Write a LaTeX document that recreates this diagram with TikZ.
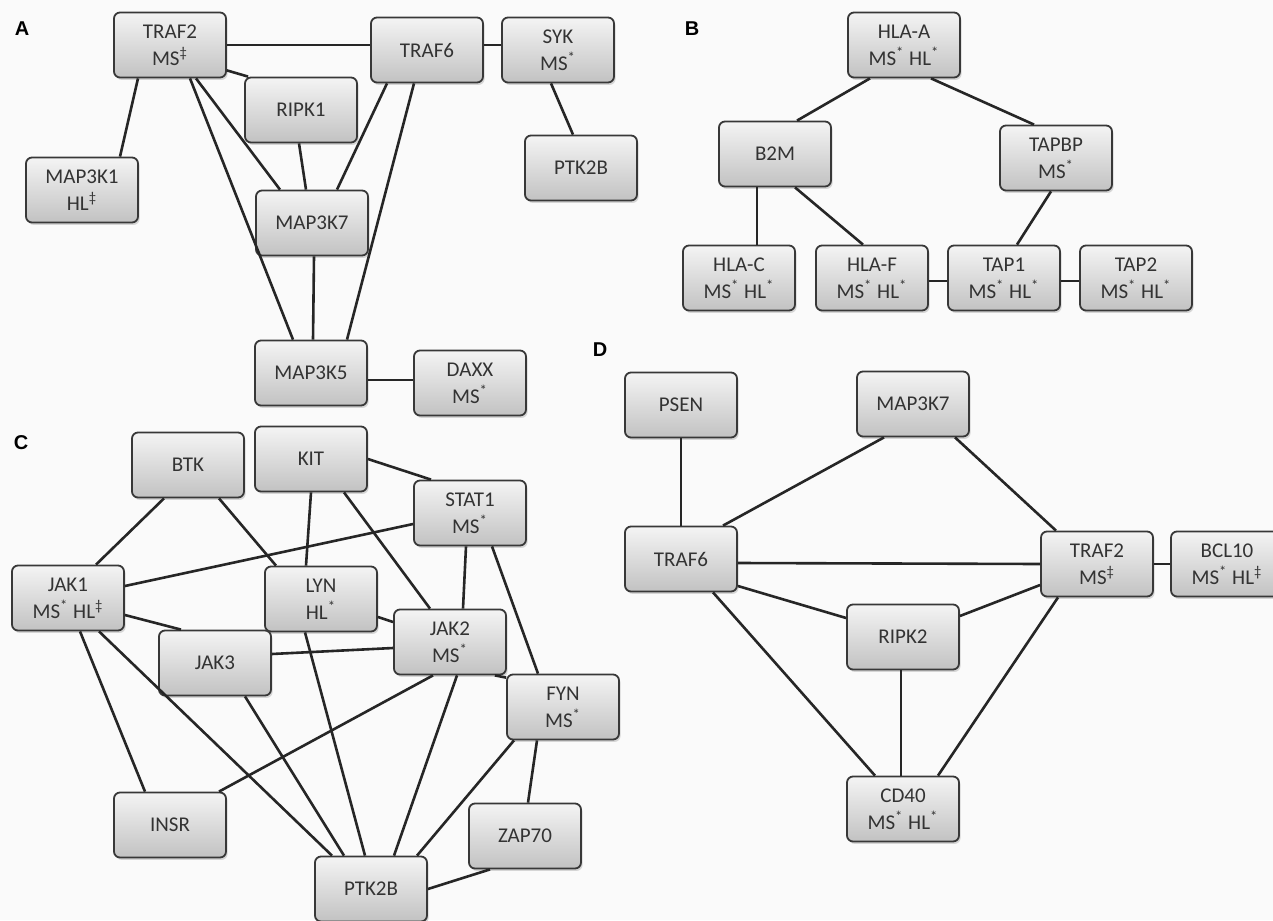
\documentclass[tikz,border=0pt]{standalone}
\usepackage{fontspec}
\setmainfont{Carlito}
\newfontfamily\panelfont{Liberation Sans}
\usepackage{tikz}
\usetikzlibrary{shadows}

\definecolor{boxtop}{HTML}{F4F4F4}
\definecolor{boxbot}{HTML}{C2C2C2}
\definecolor{boxline}{HTML}{383838}
\definecolor{bgcol}{HTML}{FAFAFA}
\newcommand{\supa}{\textsuperscript{*}}
\newcommand{\supd}{\textsuperscript{‡}}

\tikzset{
  gene/.style={rectangle, rounded corners=3pt, draw=boxline, line width=0.9pt,
    top color=boxtop, bottom color=boxbot, minimum width=56pt, minimum height=32.5pt,
    inner sep=0pt, align=center, text=black!80,
    font=\fontsize{10.5}{13.5}\selectfont,
    drop shadow={shadow xshift=0.8pt, shadow yshift=-1.2pt, opacity=0.3}},
  link/.style={line width=1.3pt, draw=black!85},
  panel/.style={font=\panelfont\bfseries\fontsize{10}{12}\selectfont}
}

\begin{document}
\begin{tikzpicture}[x=0.5pt,y=-0.5pt]
      \fill[bgcol] (0,0) rectangle (1273,920);
      \useasboundingbox (0,0) rectangle (1273,920);

      % A
      \node[panel] at (22,29) {A};
      \node[gene] (atraf2) at (170,45) {TRAF2\\MS\supd};
      \node[gene] (atraf6) at (427,50) {TRAF6};
      \node[gene] (asyk) at (558,50) {SYK\\MS\supa};
      \node[gene] (aripk1) at (301,110) {RIPK1};
      \node[gene] (aptk2b) at (581,168) {PTK2B};
      \node[gene] (amap3k1) at (82,190) {MAP3K1\\HL\supd};
      \node[gene] (amap3k7) at (312,223) {MAP3K7};
      \node[gene] (amap3k5) at (311,373) {MAP3K5};
      \node[gene] (adaxx) at (470,383) {DAXX\\MS\supa};
      \draw[link] (atraf2.east) -- ([yshift=2.5pt]atraf6.west);
      \draw[link] ([yshift=2.5pt]atraf6.east) -- ([yshift=2.5pt]asyk.west);
      \draw[link] ([xshift=-3.5pt]asyk.south) -- ([xshift=-4pt]aptk2b.north);
      \draw[link] ([xshift=-16pt]atraf2.south) -- ([xshift=19pt]amap3k1.north);
      \draw[link] ([yshift=4pt]atraf2.south east) -- ([xshift=2pt]aripk1.north west);
      \draw[link] ([xshift=13pt]atraf2.south) -- ([xshift=-16pt]amap3k7.north);
      \draw[link] ([xshift=10pt]atraf2.south) -- ([xshift=-9pt]amap3k5.north);
      \draw[link] ([xshift=-1pt]aripk1.south) -- ([xshift=-3pt]amap3k7.north);
      \draw[link] ([xshift=-20pt]atraf6.south) -- ([xshift=12.5pt]amap3k7.north);
      \draw[link] ([xshift=-6.5pt]atraf6.south) -- ([xshift=18pt]amap3k5.north);
      \draw[link] ([xshift=1pt]amap3k7.south) -- ([xshift=1pt]amap3k5.north);
      \draw[link] ([yshift=-3.5pt]amap3k5.east) -- ([yshift=1.5pt]adaxx.west);

      % B
      \node[panel] at (692,29) {B};
      \node[gene] (bhlaa) at (904,45) {HLA-A\\MS\supa{} HL\supa};
      \node[gene] (bb2m) at (775,154) {B2M};
      \node[gene] (btapbp) at (1056,158) {TAPBP\\MS\supa};
      \node[gene] (bhlac) at (739,278) {HLA-C\\MS\supa{} HL\supa};
      \node[gene] (bhlaf) at (872,278) {HLA-F\\MS\supa{} HL\supa};
      \node[gene] (btap1) at (1004,278) {TAP1\\MS\supa{} HL\supa};
      \node[gene] (btap2) at (1136,278) {TAP2\\MS\supa{} HL\supa};
      \draw[link] ([xshift=-17pt]bhlaa.south) -- ([xshift=11pt]bb2m.north);
      \draw[link] ([xshift=13.5pt]bhlaa.south) -- ([xshift=-11pt]btapbp.north);
      \draw[link] ([xshift=-9pt]bb2m.south) -- ([xshift=9pt]bhlac.north);
      \draw[link] ([xshift=10pt]bb2m.south) -- ([xshift=-4.5pt]bhlaf.north);
      \draw[link] ([xshift=-2.5pt]btapbp.south) -- ([xshift=6.5pt]btap1.north);
      \draw[link] ([yshift=-1.5pt]bhlaf.east) -- ([yshift=-1.5pt]btap1.west);
      \draw[link] ([yshift=-1.5pt]btap1.east) -- ([yshift=-1.5pt]btap2.west);

      % C
      \node[panel] at (21,443) {C};
      \node[gene] (cbtk) at (188,465) {BTK};
      \node[gene] (ckit) at (311,459) {KIT};
      \node[gene] (cstat1) at (470,513) {STAT1\\MS\supa};
      \node[gene] (cjak1) at (68,598) {JAK1\\MS\supa{} HL\supd};
      \node[gene] (clyn) at (321,599) {LYN\\HL\supa};
      \node[gene] (cjak2) at (450,642) {JAK2\\MS\supa};
      \node[gene] (cjak3) at (215,663) {JAK3};
      \node[gene] (cfyn) at (563,707) {FYN\\MS\supa};
      \node[gene] (cinsr) at (170,825) {INSR};
      \node[gene] (czap70) at (525,836) {ZAP70};
      \node[gene] (cptk2b) at (371,889) {PTK2B};
      \draw[link] ([xshift=-12pt]cbtk.south) -- ([xshift=14pt]cjak1.north);
      \draw[link] ([xshift=15.5pt]cbtk.south) -- ([xshift=-22.5pt]clyn.north);
      \draw[link] (ckit.south) -- ([xshift=-7.5pt]clyn.north);
      \draw[link] ([xshift=16.5pt]ckit.south) -- ([xshift=-10pt]cjak2.north);
      \draw[link] (ckit.east) -- ([xshift=-19.5pt]cstat1.north);
      \draw[link] ([yshift=-5.5pt]cstat1.west) -- ([yshift=6pt]cjak1.east);
      \draw[link] ([xshift=-2pt]cstat1.south) -- ([xshift=6.5pt]cjak2.north);
      \draw[link] ([xshift=11pt]cstat1.south) -- ([xshift=-12.5pt]cfyn.north);
      \draw[link] ([yshift=-8.5pt]cjak1.east) -- ([xshift=-17pt]cjak3.north);
      \draw[link] ([xshift=6pt]cjak1.south) -- ([xshift=-12.5pt]cinsr.north);
      \draw[link] ([xshift=15.5pt]cjak1.south) -- ([xshift=-19.5pt]cptk2b.north);
      \draw[link] ([yshift=-9pt]clyn.east) -- ([yshift=10pt]cjak2.west);
      \draw[link] ([xshift=-8pt]clyn.south) -- ([xshift=-3pt]cptk2b.north);
      \draw[link] ([yshift=4.5pt]cjak3.east) -- ([yshift=-3pt]cjak2.west);
      \draw[link] ([xshift=15pt]cjak3.south) -- ([xshift=-13.5pt]cptk2b.north);
      \draw[link] ([xshift=-8.5pt]cjak2.south) -- ([xshift=24.5pt]cinsr.north);
      \draw[link] ([xshift=3.5pt]cjak2.south) -- ([xshift=11.5pt]cptk2b.north);
      \draw[link] ([xshift=-6pt]cjak2.south east) -- ([yshift=-2pt]cfyn.north west);
      \draw[link] ([xshift=-24.5pt]cfyn.south) -- ([xshift=23pt]cptk2b.north);
      \draw[link] ([xshift=-13pt]cfyn.south) -- ([xshift=1.5pt]czap70.north);
      \draw[link] ([xshift=-17.5pt]czap70.south) -- (cptk2b.east);

      % D
      \node[panel] at (600,350) {D};
      \node[gene] (dpsen) at (681,405) {PSEN};
      \node[gene] (dmap3k7) at (913,404) {MAP3K7};
      \node[gene] (dtraf6) at (681,559) {TRAF6};
      \node[gene] (dtraf2) at (1097,564) {TRAF2\\MS\supd};
      \node[gene] (dbcl10) at (1227,564) {BCL10\\MS\supa{} HL\supd};
      \node[gene] (dripk2) at (903,637) {RIPK2};
      \node[gene] (dcd40) at (903,809) {CD40\\MS\supa{} HL\supa};
      \draw[link] (dpsen) -- (dtraf6);
      \draw[link] ([xshift=21pt]dtraf6.north) -- ([xshift=-14.5pt]dmap3k7.south);
      \draw[link] ([xshift=21pt]dmap3k7.south) -- ([xshift=-20.5pt]dtraf2.north);
      \draw[link] ([yshift=-2pt]dtraf6.east) -- (dtraf2.west);
      \draw[link] (dtraf2) -- (dbcl10);
      \draw[link] ([yshift=-13.5pt]dtraf6.east) -- ([yshift=9.5pt]dripk2.west);
      \draw[link] ([yshift=10.5pt]dripk2.east) -- ([yshift=-10.5pt]dtraf2.west);
      \draw[link] ([xshift=16pt]dtraf6.south) -- ([xshift=-14pt]dcd40.north);
      \draw[link] ([xshift=-1pt]dripk2.south) -- ([xshift=-1pt]dcd40.north);
      \draw[link] ([xshift=-19.5pt]dtraf2.south) -- ([xshift=17.5pt]dcd40.north);
\end{tikzpicture}
\end{document}
